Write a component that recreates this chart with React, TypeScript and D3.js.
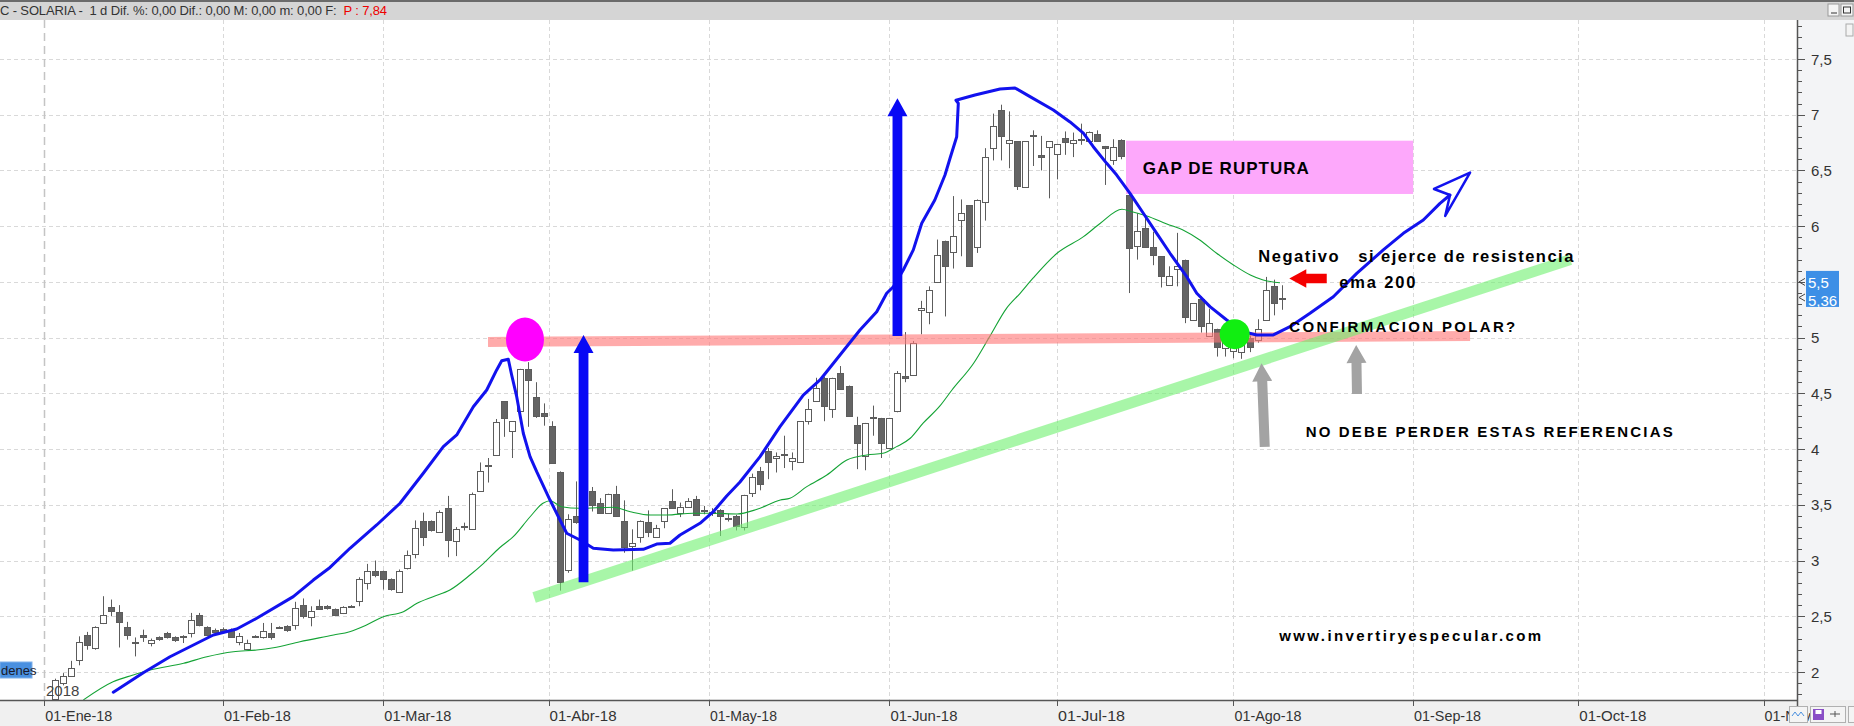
import React from 'react';
import * as d3 from 'd3';

// ---------- DATA ----------
// daily candles, one per trading day from 02-Ene-18: [open, high, low, close]
const candles: [number, number, number, number][] = [
  [1.68, 1.74, 1.62, 1.72], [1.76, 1.94, 1.72, 1.93], [1.90, 1.99, 1.88, 1.96], [1.97, 2.10, 1.96, 2.04],
  [2.11, 2.32, 2.06, 2.27], [2.33, 2.36, 2.20, 2.24], [2.21, 2.41, 2.20, 2.40], [2.44, 2.68, 2.43, 2.51],
  [2.58, 2.65, 2.50, 2.54], [2.54, 2.60, 2.22, 2.45], [2.40, 2.45, 2.29, 2.33], [2.27, 2.31, 2.14, 2.26],
  [2.33, 2.38, 2.27, 2.31], [2.26, 2.30, 2.23, 2.29], [2.31, 2.32, 2.28, 2.29], [2.35, 2.36, 2.30, 2.31],
  [2.31, 2.32, 2.27, 2.28], [2.32, 2.33, 2.26, 2.32], [2.35, 2.53, 2.31, 2.47], [2.51, 2.53, 2.41, 2.42],
  [2.40, 2.41, 2.32, 2.33], [2.38, 2.39, 2.35, 2.36], [2.385, 2.40, 2.36, 2.37], [2.38, 2.39, 2.31, 2.32],
  [2.27, 2.35, 2.24, 2.32], [2.21, 2.29, 2.21, 2.26], [2.32, 2.33, 2.31, 2.32], [2.32, 2.44, 2.30, 2.37],
  [2.35, 2.44, 2.29, 2.31], [2.40, 2.41, 2.39, 2.40], [2.41, 2.42, 2.36, 2.37], [2.42, 2.63, 2.38, 2.57],
  [2.60, 2.66, 2.48, 2.50], [2.50, 2.59, 2.41, 2.55], [2.59, 2.65, 2.56, 2.56], [2.59, 2.60, 2.56, 2.57],
  [2.565, 2.57, 2.50, 2.51], [2.53, 2.59, 2.52, 2.58], [2.59, 2.60, 2.58, 2.595], [2.63, 2.85, 2.59, 2.83],
  [2.80, 2.97, 2.74, 2.91], [2.905, 3.00, 2.85, 2.87], [2.905, 2.91, 2.74, 2.83], [2.83, 2.84, 2.73, 2.74],
  [2.72, 2.92, 2.72, 2.91], [2.93, 3.09, 2.92, 3.05], [3.06, 3.36, 3.02, 3.29], [3.355, 3.43, 3.13, 3.21],
  [3.355, 3.36, 3.26, 3.27], [3.26, 3.45, 3.25, 3.44], [3.47, 3.58, 3.03, 3.18], [3.17, 3.30, 3.04, 3.28],
  [3.30, 3.34, 3.27, 3.31], [3.29, 3.61, 3.28, 3.60], [3.62, 3.88, 3.62, 3.80], [3.85, 3.92, 3.70, 3.86],
  [3.94, 4.27, 3.94, 4.24], [4.43, 4.43, 4.11, 4.28], [4.16, 4.25, 3.92, 4.25], [4.34, 4.72, 4.33, 4.72],
  [4.72, 4.78, 4.20, 4.62], [4.47, 4.60, 4.28, 4.30], [4.32, 4.41, 4.21, 4.29], [4.21, 4.25, 3.87, 3.88],
  [3.79, 3.80, 2.73, 2.80], [2.91, 3.415, 2.89, 3.37], [3.40, 3.71, 3.33, 3.35], [3.35, 3.55, 3.30, 3.50],
  [3.62, 3.66, 3.44, 3.49], [3.52, 3.56, 3.42, 3.43], [3.43, 3.60, 3.43, 3.60], [3.60, 3.67, 3.40, 3.40],
  [3.355, 3.54, 3.07, 3.12], [3.13, 3.28, 2.91, 3.16], [3.21, 3.36, 3.16, 3.355], [3.35, 3.45, 3.21, 3.26],
  [3.21, 3.32, 3.21, 3.29], [3.355, 3.47, 3.29, 3.47], [3.53, 3.64, 3.47, 3.47], [3.43, 3.52, 3.39, 3.48],
  [3.48, 3.56, 3.48, 3.53], [3.55, 3.58, 3.41, 3.41], [3.45, 3.49, 3.415, 3.455], [3.44, 3.47, 3.40, 3.43],
  [3.45, 3.46, 3.22, 3.40], [3.38, 3.42, 3.35, 3.38], [3.40, 3.41, 3.27, 3.31], [3.30, 3.59, 3.27, 3.59],
  [3.605, 3.78, 3.57, 3.75], [3.80, 3.84, 3.63, 3.68], [3.98, 4.01, 3.73, 3.88], [3.92, 3.97, 3.79, 3.94],
  [3.95, 4.12, 3.83, 3.955], [3.89, 3.97, 3.81, 3.92], [3.88, 4.25, 3.88, 4.25], [4.25, 4.45, 4.22, 4.36],
  [4.43, 4.64, 4.43, 4.55], [4.635, 4.65, 4.25, 4.38], [4.36, 4.64, 4.28, 4.635], [4.68, 4.745, 4.54, 4.54],
  [4.57, 4.57, 4.30, 4.30], [4.22, 4.29, 3.82, 4.06], [3.93, 4.235, 3.81, 4.23], [4.28, 4.39, 4.12, 4.285],
  [4.28, 4.28, 3.92, 4.06], [4.01, 4.28, 4.00, 4.28], [4.34, 4.70, 4.33, 4.68], [4.66, 5.05, 4.60, 4.64],
  [4.66, 4.97, 4.66, 4.95], [5.25, 5.33, 5.03, 5.27], [5.23, 5.46, 5.12, 5.43], [5.50, 5.88, 5.49, 5.74],
  [5.87, 5.87, 5.19, 5.645], [5.77, 6.27, 5.62, 5.91], [6.05, 6.24, 5.73, 6.115], [6.19, 6.19, 5.645, 5.645],
  [5.81, 6.24, 5.76, 6.235], [6.215, 6.70, 6.05, 6.62], [6.70, 7.01, 6.59, 6.90], [7.04, 7.09, 6.59, 6.81],
  [6.74, 7.03, 6.52, 6.77], [6.76, 6.76, 6.325, 6.36], [6.35, 6.76, 6.35, 6.76], [6.81, 6.86, 6.54, 6.815],
  [6.64, 6.81, 6.50, 6.625], [6.71, 6.76, 6.25, 6.76], [6.65, 6.74, 6.42, 6.74], [6.79, 6.85, 6.64, 6.75],
  [6.75, 6.84, 6.62, 6.775], [6.78, 6.92, 6.73, 6.78], [6.76, 6.85, 6.76, 6.845], [6.83, 6.86, 6.77, 6.77],
  [6.72, 6.72, 6.37, 6.70], [6.59, 6.78, 6.55, 6.71], [6.77, 6.78, 6.60, 6.63], [6.28, 6.30, 5.40, 5.80],
  [5.825, 6.115, 5.70, 5.96], [5.98, 6.10, 5.81, 5.81], [5.81, 5.95, 5.65, 5.74], [5.73, 5.73, 5.45, 5.55],
  [5.47, 5.64, 5.47, 5.555], [5.61, 5.94, 5.46, 5.64], [5.70, 5.70, 5.13, 5.19], [5.16, 5.31, 5.16, 5.31],
  [5.345, 5.37, 5.045, 5.105], [5.015, 5.26, 5.01, 5.13], [5.08, 5.08, 4.83, 4.92], [4.905, 5.04, 4.83, 5.03],
  [4.875, 4.95, 4.815, 4.93], [4.865, 4.96, 4.81, 4.95], [4.995, 5.02, 4.87, 4.91], [4.98, 5.165, 4.955, 5.075],
  [5.16, 5.545, 5.16, 5.43], [5.465, 5.52, 5.20, 5.315], [5.36, 5.47, 5.25, 5.36],
];

// month labels and the bar index where each month begins
const monthLabels = ['01-Ene-18', '01-Feb-18', '01-Mar-18', '01-Abr-18', '01-May-18', '01-Jun-18',
  '01-Jul-18', '01-Ago-18', '01-Sep-18', '01-Oct-18', '01-Nov-18'];
const monthIndex = [-0.27, 22, 42, 62.6, 82.6, 105.1, 126, 148, 170.4, 191, 214.1];

const priceTicks = [2, 2.5, 3, 3.5, 4, 4.5, 5, 5.5, 6, 6.5, 7, 7.5];

// moving average (green thin line): [bar index, price]
const maLine: [number, number][] = [
  [4.6, 1.75], [8.3, 1.913], [10.8, 1.973], [12.9, 2.018], [17.1, 2.078], [20.0, 2.137], [23.3, 2.182],
  [26.2, 2.197], [28.3, 2.218], [31.6, 2.272], [35.8, 2.332], [37.8, 2.362], [39.9, 2.422], [42.0, 2.496],
  [44.5, 2.541], [46.2, 2.616], [48.2, 2.676], [50.3, 2.736], [52.8, 2.87], [54.5, 2.975], [56.5, 3.115],
  [58.2, 3.214], [60.3, 3.393], [61.9, 3.514], [62.8, 3.537], [64.2, 3.483], [66.5, 3.469], [70.7, 3.478],
  [72.8, 3.438], [75.3, 3.409], [77.3, 3.409], [80.6, 3.424], [83.1, 3.424], [86.1, 3.418], [88.6, 3.46],
  [91.5, 3.543], [92.7, 3.559], [94.8, 3.663], [97.3, 3.768], [99.8, 3.902], [102.3, 3.947], [104.3, 3.962],
  [106.0, 4.022], [107.7, 4.097], [109.3, 4.232], [111.4, 4.387], [112.9, 4.53], [115.6, 4.77], [117.6, 5.009],
  [119.7, 5.263], [121.4, 5.398], [123.0, 5.533], [126.0, 5.757], [129.3, 5.906], [131.4, 6.026],
  [134.1, 6.152], [135.3, 6.13], [137.2, 6.092], [139.7, 6.02], [141.7, 5.966], [143.8, 5.876],
  [145.9, 5.757], [148.0, 5.652], [150.1, 5.562], [151.7, 5.517], [153.8, 5.493],
];

// hand-drawn blue curve: [bar index, price]
const handLine: [number, number][] = [
  [8.33, 1.818], [12.07, 1.994], [15.4, 2.137], [20.8, 2.332], [23.72, 2.386], [26.21, 2.482], [30.77, 2.676],
  [33.27, 2.825], [35.35, 2.938], [37.84, 3.11], [41.17, 3.319], [44.08, 3.514], [46.98, 3.783], [49.48, 4.022],
  [51.15, 4.127], [53.22, 4.38], [54.89, 4.53], [56.13, 4.71], [56.76, 4.793], [57.58, 4.806], [58.0, 4.665],
  [58.63, 4.47], [59.45, 4.142], [60.29, 3.932], [61.12, 3.797], [62.78, 3.543], [64.03, 3.364], [64.86, 3.245],
  [66.52, 3.184], [68.18, 3.11], [70.67, 3.095], [74.41, 3.101], [76.08, 3.148], [77.74, 3.155], [78.99, 3.229],
  [81.48, 3.334], [83.14, 3.438], [84.81, 3.579], [86.47, 3.705], [88.97, 3.932], [91.46, 4.201], [94.36, 4.485],
  [96.45, 4.62], [98.94, 4.844], [101.43, 5.069], [103.52, 5.233], [104.76, 5.398], [105.59, 5.457],
  [106.83, 5.607], [108.08, 5.787], [109.13, 6.026], [110.76, 6.235], [112.03, 6.459], [112.66, 6.609],
  [113.49, 6.803], [113.69, 7.103], [113.4, 7.13], [115.77, 7.177], [118.89, 7.231], [120.76, 7.24],
  [122.63, 7.162], [125.54, 7.043], [127.62, 6.935], [129.28, 6.834], [130.52, 6.713], [132.19, 6.564],
  [133.44, 6.459], [135.1, 6.295], [136.76, 6.116], [138.43, 5.936], [140.09, 5.757], [142.17, 5.547],
  [143.42, 5.398], [145.07, 5.278], [147.16, 5.158], [149.23, 5.053], [150.9, 5.024], [152.97, 5.024],
  [155.05, 5.098], [157.54, 5.218], [160.45, 5.367], [163.37, 5.577], [166.68, 5.787], [169.18, 5.936],
  [171.67, 6.056], [173.75, 6.205], [175.0, 6.28],
];
const handArrowHead: [number, number][] = [[175.0, 6.28], [173.0, 6.334], [177.5, 6.481], [174.4, 6.092], [175.0, 6.28]];

const resistanceLine: [number, number][] = [[55.05, 4.961], [177.5, 5.015]];
const supportLine: [number, number][] = [[60.8, 2.668], [190, 5.70]];
const blueArrows: [number, number, number][] = [[66.96, 2.806, 5.024], [106.1, 5.015, 7.148]]; // [index, from, to]
const grayArrows: [number, number, number, number][] = [[151.9, 4.02, 151.5, 4.77], [163.4, 4.494, 163.3, 4.934]];
const gapBox = { i0: 134.6, i1: 170.4, p0: 6.289, p1: 6.767 };
const magentaDot = { i: 59.66, p: 4.983 };
const greenDot = { i: 148.15, p: 5.031 };
const redArrow = { i0: 159.63, i1: 154.96, p: 5.53 };

const notes: { text: string; i: number; p: number; size: number; width: number }[] = [
  { text: 'GAP DE RUPTURA', i: 136.7, p: 6.468, size: 17, width: 166 },
  { text: 'Negativo   si ejerce de resistencia', i: 151.1, p: 5.681, size: 16.5, width: 315 },
  { text: 'ema 200', i: 161.2, p: 5.443, size: 16.5, width: 76 },
  { text: 'CONFIRMACION POLAR?', i: 154.96, p: 5.048, size: 15, width: 226 },
  { text: 'NO DEBE PERDER ESTAS REFERENCIAS', i: 157.0, p: 4.111, size: 15, width: 367 },
  { text: 'www.invertiryespecular.com', i: 153.7, p: 2.278, size: 15, width: 262 },
];

const headerText = 'C - SOLARIA -  1 d Dif. %: 0,00 Dif.: 0,00 M: 0,00 m: 0,00 F:  ';
const headerPrice = 'P : 7,84';
const lastPrices = ['5,5', '5,36'];
const lastPriceValues = [5.5, 5.36];

// ---------- CHART ----------
const W = 1854, H = 726;
const plotTop = 20, plotBottom = 700, axisX = 1797;

function arrowPoly(x1: number, y1: number, x2: number, y2: number, sw: number, hw: number, hl: number) {
  const dx = x2 - x1, dy = y2 - y1;
  const len = Math.hypot(dx, dy);
  const ux = dx / len, uy = dy / len;
  const nx = -uy, ny = ux;
  const bx = x2 - ux * hl, by = y2 - uy * hl;
  const pts = [
    [x1 + nx * sw, y1 + ny * sw], [bx + nx * sw, by + ny * sw], [bx + nx * hw, by + ny * hw], [x2, y2],
    [bx - nx * hw, by - ny * hw], [bx - nx * sw, by - ny * sw], [x1 - nx * sw, y1 - ny * sw],
  ];
  return pts.map(p => p.join(',')).join(' ');
}

export default function App() {
  const xs = d3.scaleLinear().domain([0, 214]).range([46.5, 1762.8]);
  const ys = d3.scaleLinear().domain([2, 7.5]).range([672, 59]);
  const line = d3.line<[number, number]>().x(d => xs(d[0])).y(d => ys(d[1]));
  const smooth = d3.line<[number, number]>().x(d => xs(d[0])).y(d => ys(d[1])).curve(d3.curveMonotoneX);
  const minorTicks = d3.range(18, 79).map(v => v / 10);
  const fmt = (v: number) => String(v).replace('.', ',');

  return (
    <svg width={W} height={H} style={{ position: 'absolute', left: 0, top: 0, background: '#fff' }}
      fontFamily="'Liberation Sans', Arial, sans-serif">
      <defs>
        <clipPath id="plot"><rect x={0} y={plotTop} width={axisX} height={plotBottom - plotTop} /></clipPath>
      </defs>
      <rect x={0} y={0} width={W} height={H} fill="#fff" />
      {/* right axis panel */}
      <rect x={axisX} y={plotTop} width={W - axisX} height={plotBottom - plotTop} fill="#f3f4f6" />
      {/* bottom axis panel */}
      <rect x={0} y={plotBottom} width={W} height={H - plotBottom} fill="#f0f0f0" />

      {/* grid */}
      <g clipPath="url(#plot)">
        {priceTicks.map(v => (
          <line key={'h' + v} x1={0} x2={axisX} y1={Math.round(ys(v)) + 0.5} y2={Math.round(ys(v)) + 0.5}
            stroke="#d9d9d9" strokeDasharray="4,3" />
        ))}
        {monthIndex.map((m, k) => (
          <line key={'v' + k} x1={Math.round(xs(m)) + 0.5} x2={Math.round(xs(m)) + 0.5} y1={plotTop} y2={plotBottom}
            stroke={k === 0 ? '#c4c4c4' : '#d9d9d9'} strokeWidth={k === 0 ? 1.5 : 1}
            strokeDasharray={k === 0 ? '8,5' : '4,3'} />
        ))}
      </g>

      {/* candles */}
      <g clipPath="url(#plot)">
        {candles.map((c, i) => {
          const [o, h, l, cl] = c;
          const cx = Math.round(xs(i)) + 0.5;
          const top = ys(Math.max(o, cl)), bot = ys(Math.min(o, cl));
          const up = cl >= o;
          return (
            <g key={i}>
              <line x1={cx} x2={cx} y1={ys(h)} y2={ys(l)} stroke="#5c5c5c" strokeWidth={1} />
              <rect x={cx - 3} y={Math.round(top) + 0.5} width={6} height={Math.max(1, Math.round(bot - top))}
                fill={up ? '#ffffff' : '#646464'} stroke="#5c5c5c" strokeWidth={1} />
            </g>
          );
        })}
        <path d={smooth(maLine) || ''} fill="none" stroke="#14a335" strokeWidth={1.1} />
      </g>

      {/* annotations */}
      <g clipPath="url(#plot)">
        <path d={line(resistanceLine) || ''} stroke="rgba(255,120,120,0.62)" strokeWidth={10} fill="none" />
        <path d={line(supportLine) || ''} stroke="rgba(110,240,110,0.6)" strokeWidth={11} fill="none" />
        <rect x={xs(gapBox.i0)} y={ys(gapBox.p1)} width={xs(gapBox.i1) - xs(gapBox.i0)}
          height={ys(gapBox.p0) - ys(gapBox.p1)} fill="#fda8fb" />
        <path d={line(handLine) || ''} stroke="#1212ee" strokeWidth={3} fill="none" strokeLinejoin="round"
          strokeLinecap="round" />
        <path d={line(handArrowHead) || ''} stroke="#1212ee" strokeWidth={2.5} fill="none" strokeLinejoin="round" />
        {blueArrows.map((a, k) => (
          <polygon key={'ba' + k} points={arrowPoly(xs(a[0]), ys(a[1]), xs(a[0]), ys(a[2]), 4.9, 10, 18)}
            fill="#0808f5" />
        ))}
        {grayArrows.map((a, k) => (
          <polygon key={'ga' + k} points={arrowPoly(xs(a[0]), ys(a[1]), xs(a[2]), ys(a[3]), 5, 10, 18)}
            fill="#a3a3a3" />
        ))}
        <polygon points={arrowPoly(xs(redArrow.i0), ys(redArrow.p), xs(redArrow.i1), ys(redArrow.p), 4.7, 9.2, 17)}
          fill="#f40000" />
        <ellipse cx={xs(magentaDot.i)} cy={ys(magentaDot.p)} rx={19} ry={22} fill="#ff00ff" />
        <circle cx={xs(greenDot.i)} cy={ys(greenDot.p)} r={15} fill="#11ee11" />
        {notes.map((n, k) => (
          <text key={'n' + k} x={xs(n.i)} y={ys(n.p)} fontSize={n.size} fontWeight="bold" fill="#000"
            textLength={n.width} lengthAdjust="spacing" style={{ whiteSpace: 'pre' }}>{n.text}</text>
        ))}
      </g>

      {/* left labels */}
      <rect x={0} y={662} width={32} height={16} fill="#4a90e0" stroke="#7fb0ea" />
      <text x={1} y={675} fontSize={13} fill="#1a1a2a">denes</text>
      <text x={46} y={696} fontSize={15} fill="#444">2018</text>

      {/* x axis */}
      <line x1={0} x2={axisX} y1={plotBottom + 0.5} y2={plotBottom + 0.5} stroke="#555" strokeWidth={1.5} />
      {monthIndex.map((m, k) => (
        <g key={'xt' + k}>
          <line x1={Math.round(xs(m)) + 0.5} x2={Math.round(xs(m)) + 0.5} y1={plotBottom} y2={plotBottom + 6}
            stroke="#555" />
          <text x={xs(m) + 1} y={721} fontSize={15} fill="#333" textLength={67} lengthAdjust="spacingAndGlyphs">
            {monthLabels[k]}
          </text>
        </g>
      ))}

      {/* y axis */}
      <line x1={axisX + 0.5} x2={axisX + 0.5} y1={plotTop} y2={plotBottom + 10} stroke="#555" strokeWidth={1.5} />
      {minorTicks.map(v => (
        <line key={'mt' + v} x1={axisX} x2={axisX + 5} y1={Math.round(ys(v)) + 0.5} y2={Math.round(ys(v)) + 0.5}
          stroke="#555" />
      ))}
      {priceTicks.map(v => (
        <g key={'yt' + v}>
          <line x1={axisX} x2={axisX + 8} y1={Math.round(ys(v)) + 0.5} y2={Math.round(ys(v)) + 0.5} stroke="#555" />
          <text x={1811} y={ys(v) + 5.5} fontSize={15} fill="#333">{fmt(v)}</text>
        </g>
      ))}
      {/* last price tag */}
      <rect x={1806} y={ys(5.5) - 11} width={33} height={36} fill="#3d8fe6" />
      {lastPrices.map((t, k) => (
        <g key={'lp' + k}>
          <text x={1808} y={ys(lastPriceValues[k]) + 6 + k * 2} fontSize={15} fill="#fff">{t}</text>
          <path d={`M${axisX + 8},${ys(lastPriceValues[k]) - 3.5} L${axisX + 2},${ys(lastPriceValues[k])} L${axisX + 8},${ys(lastPriceValues[k]) + 3.5}`}
            fill="none" stroke="#444" />
        </g>
      ))}

      {/* header */}
      <rect x={0} y={0} width={W} height={plotTop} fill="#d5d5d5" />
      <rect x={0} y={0} width={W} height={2} fill="#6b6b6b" />
      <text x={0} y={15} fontSize={13} fill="#333" textLength={387} lengthAdjust="spacing" style={{ whiteSpace: 'pre' }}>
        {headerText}<tspan fill="#ee0000">{headerPrice}</tspan>
      </text>
      <rect x={1828} y={4} width={11} height={12} fill="#f4f4f4" stroke="#999" />
      <line x1={1831} x2={1837} y1={13} y2={13} stroke="#333" />
      <rect x={1841} y={4} width={12} height={12} fill="#f4f4f4" stroke="#999" />
      <rect x={1843.5} y={7} width={7} height={6} fill="none" stroke="#333" />
      <rect x={1846} y={24} width={7} height={12} fill="#f4f4f4" stroke="#aaa" />

      {/* bottom right buttons */}
      <rect x={1789.5} y={706.5} width={18} height={16} fill="#f4f4f4" stroke="#b0b0b0" />
      <path d="M1792,716 l3,-4 l3,4 l3,-4 l3,4" stroke="#4a90e0" fill="none" />
      <rect x={1810.5} y={706.5} width={35} height={16} fill="#f4f4f4" stroke="#b0b0b0" />
      <rect x={1813} y={709} width={11} height={11} fill="#8a4fc6" />
      <rect x={1815.5} y={710} width={6} height={4} fill="#fff" />
      <path d="M1830,714 h10 M1835,711 v6" stroke="#555" />
      <rect x={1848.5} y={706.5} width={6} height={16} fill="#f4f4f4" stroke="#b0b0b0" />
    </svg>
  );
}
